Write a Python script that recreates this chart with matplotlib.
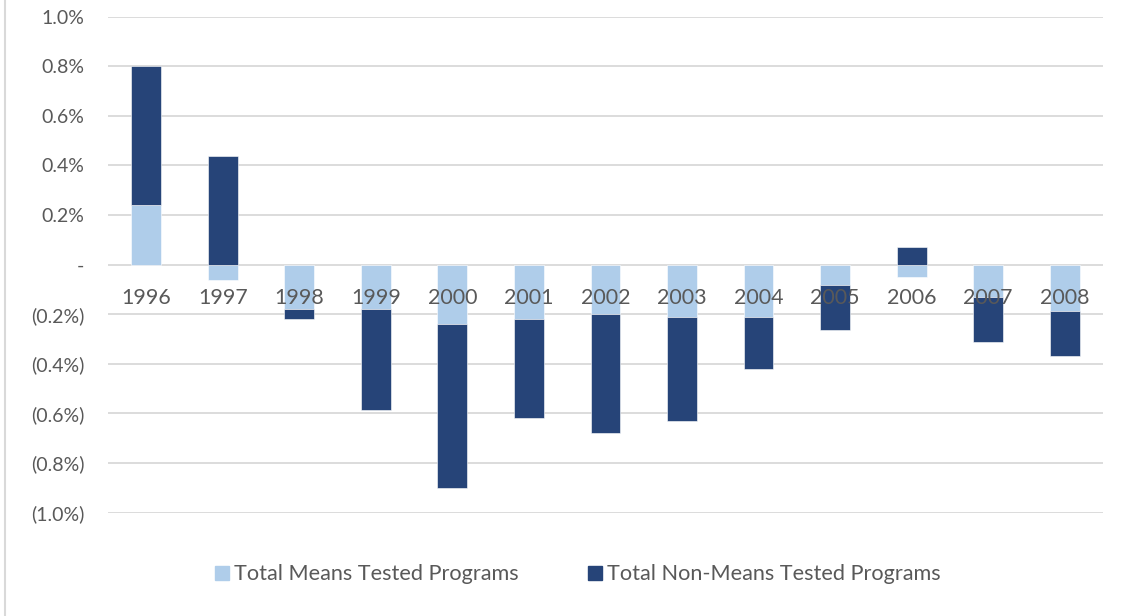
import numpy as np
import matplotlib
matplotlib.use("Agg")
import matplotlib.pyplot as plt
from matplotlib.ticker import FuncFormatter, MultipleLocator
from matplotlib.lines import Line2D

plt.rcParams["font.family"] = ["Lato", "DejaVu Sans"]

YEARS = ["1996", "1997", "1998", "1999", "2000", "2001", "2002",
         "2003", "2004", "2005", "2006", "2007", "2008"]
# percent of GDP
MEANS_TESTED = [0.24, -0.06, -0.18, -0.18, -0.24, -0.22, -0.20,
                -0.21, -0.21, -0.08, -0.05, -0.13, -0.185]
NON_MEANS_TESTED = [0.56, 0.44, -0.04, -0.405, -0.66, -0.40, -0.48,
                    -0.42, -0.21, -0.185, 0.07, -0.18, -0.185]

LIGHT = "#AFCDEA"
DARK = "#264478"
GRID = "#D9D9D9"
TXT = "#595959"


def pct_fmt(v, pos):
    if abs(v) < 1e-9:
        return "-"
    if v < 0:
        return f"({abs(v):.1f}%)"
    return f"{v:.1f}%"


def main():
    fig = plt.figure(figsize=(11.27, 6.16), dpi=100)
    ax = fig.add_axes([0.0958, 0.1677, 0.8829, 0.8052])

    x = np.arange(len(YEARS))
    mt = np.array(MEANS_TESTED)
    nmt = np.array(NON_MEANS_TESTED)
    # Excel-style stacking: positives on positives, negatives on negatives
    base = np.where(nmt >= 0, np.maximum(mt, 0), np.minimum(mt, 0))

    w = 0.39
    ax.bar(x, mt, width=w, color=LIGHT, edgecolor="white", linewidth=0.4, zorder=2)
    ax.bar(x, nmt, bottom=base, width=w, color=DARK, edgecolor="white", linewidth=0.4, zorder=2)

    ax.set_xlim(-0.5, len(YEARS) - 0.5)
    ax.set_ylim(-1.0, 1.0)
    ax.yaxis.set_major_locator(MultipleLocator(0.2))
    ax.yaxis.set_major_formatter(FuncFormatter(pct_fmt))
    ax.set_xticks([])
    ax.grid(axis="y", color=GRID, lw=1.3)
    ax.set_axisbelow(True)
    for s in ax.spines.values():
        s.set_visible(False)
    ax.tick_params(axis="y", length=0, pad=17, labelsize=14, labelcolor=TXT)

    # category labels sit just under the zero line, over the bars
    for xi, yr in zip(x, YEARS):
        ax.text(xi, -0.093, yr, ha="center", va="top", fontsize=15.4,
                color=TXT, zorder=5)

    handles = [Line2D([], [], marker="s", ls="", ms=10.5, color=LIGHT),
               Line2D([], [], marker="s", ls="", ms=10.5, color=DARK)]
    fig.legend(handles, ["Total Means Tested Programs", "Total Non-Means Tested Programs"],
               loc="center", bbox_to_anchor=(0.511, 0.068), ncol=2, frameon=False,
               fontsize=15.6, labelcolor=TXT, handletextpad=0.05, columnspacing=3.0,
               handlelength=1.0)

    # chart-area border on the left edge
    fig.add_artist(Line2D([0.004, 0.004], [0, 1], transform=fig.transFigure,
                          color=GRID, lw=1.5))

    fig.savefig("out.png", dpi=100)
    plt.close(fig)


if __name__ == "__main__":
    main()
